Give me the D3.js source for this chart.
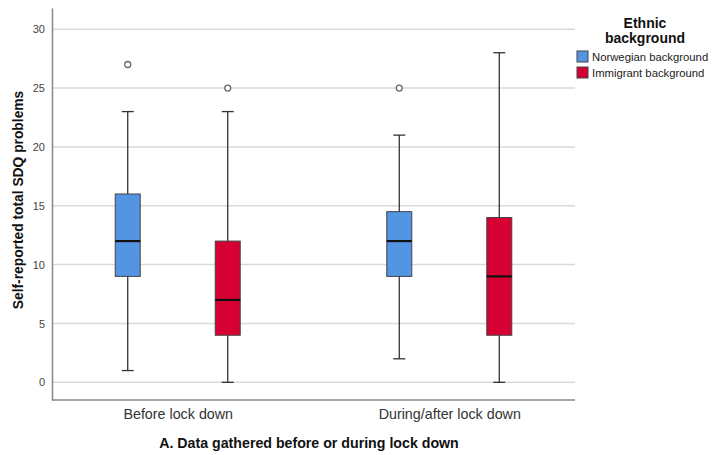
<!DOCTYPE html>
<html><head><meta charset="utf-8">
<script src="https://cdn.jsdelivr.net/npm/d3@7"></script>
<style>body{margin:0;background:#fff}svg{display:block}text{font-family:"Liberation Sans",Arial,sans-serif}</style>
</head><body><svg id="c" width="712" height="455"></svg>
<script>
const categories = ["Before lock down", "During/after lock down"];
const groups = ["Norwegian background", "Immigrant background"];
const colors = ["#5394e3", "#d60032"];
// [min, q1, median, q3, max]
const norwegianStats = [[1, 9, 12, 16, 23], [2, 9, 12, 14.5, 21]];
const immigrantStats = [[0, 4, 7, 12, 23], [0, 4, 9, 14, 28]];
const norwegianOutliers = [[27], [25]];
const immigrantOutliers = [[25], []];
const yTicks = [0, 5, 10, 15, 20, 25, 30];

const svg = d3.select("#c");
const pL = 52, pR = 575, pT = 8, pB = 400;
const y = d3.scaleLinear().domain([-1.5, 31.8]).range([pB, pT]);
const x = d3.scalePoint().domain(categories).range([pL, pR]).padding(0.463);
const sub = d3.scalePoint().domain(groups).range([-50, 50]);
const boxW = 25, capW = 12;

// gridlines
svg.append("g").selectAll("line").data(yTicks).join("line")
  .attr("x1", pL).attr("x2", pR)
  .attr("y1", d => y(d)).attr("y2", d => y(d))
  .attr("stroke", "#d9d9d9").attr("stroke-width", 1.5);

// axes
const yAxis = svg.append("g").attr("transform", `translate(${pL},0)`)
  .call(d3.axisLeft(y).tickValues(yTicks).tickSize(0).tickPadding(7));
yAxis.select(".domain").attr("stroke", "#888").attr("stroke-width", 1.5);
yAxis.selectAll("text").attr("font-size", 11).attr("fill", "#444");

const xAxis = svg.append("g").attr("transform", `translate(0,${pB})`)
  .call(d3.axisBottom(x).tickSize(0).tickPadding(9));
xAxis.select(".domain").attr("stroke", "#888").attr("stroke-width", 1.5).attr("d", `M${pL},0H${pR}`);
xAxis.selectAll("text").attr("font-size", 14.3).attr("fill", "#333");

const data = [];
categories.forEach((c, i) => {
  data.push({c, g: groups[0], s: norwegianStats[i], o: norwegianOutliers[i], col: colors[0]});
  data.push({c, g: groups[1], s: immigrantStats[i], o: immigrantOutliers[i], col: colors[1]});
});

const bx = svg.append("g").selectAll("g").data(data).join("g")
  .attr("transform", d => `translate(${x(d.c) + sub(d.g)},0)`);
// whiskers
bx.append("line").attr("x1", 0).attr("x2", 0)
  .attr("y1", d => y(d.s[0])).attr("y2", d => y(d.s[4]))
  .attr("stroke", "#333").attr("stroke-width", 1.3);
bx.append("line").attr("x1", -capW/2).attr("x2", capW/2)
  .attr("y1", d => y(d.s[0])).attr("y2", d => y(d.s[0]))
  .attr("stroke", "#333").attr("stroke-width", 1.3);
bx.append("line").attr("x1", -capW/2).attr("x2", capW/2)
  .attr("y1", d => y(d.s[4])).attr("y2", d => y(d.s[4]))
  .attr("stroke", "#333").attr("stroke-width", 1.3);
// boxes
bx.append("rect").attr("x", -boxW/2).attr("width", boxW)
  .attr("y", d => y(d.s[3])).attr("height", d => y(d.s[1]) - y(d.s[3]))
  .attr("fill", d => d.col).attr("stroke", "#444").attr("stroke-width", 1);
bx.append("line").attr("x1", -boxW/2).attr("x2", boxW/2)
  .attr("y1", d => y(d.s[2])).attr("y2", d => y(d.s[2]))
  .attr("stroke", "#111").attr("stroke-width", 2.2);
// outliers
bx.selectAll("circle").data(d => d.o).join("circle")
  .attr("cx", 0).attr("cy", d => y(d)).attr("r", 3)
  .attr("fill", "#fff").attr("stroke", "#666").attr("stroke-width", 1.3);

// axis titles
svg.append("text").attr("transform", `translate(23,200) rotate(-90)`)
  .attr("text-anchor", "middle").attr("font-size", 13.8).attr("font-weight", "bold").attr("fill", "#111")
  .text("Self-reported total SDQ problems");
svg.append("text").attr("x", 309).attr("y", 448)
  .attr("text-anchor", "middle").attr("font-size", 14.2).attr("font-weight", "bold").attr("fill", "#111")
  .text("A. Data gathered before or during lock down");

// legend
const lg = svg.append("g");
lg.append("text").attr("x", 645).attr("y", 28).attr("text-anchor", "middle")
  .attr("font-size", 14).attr("font-weight", "bold").attr("fill", "#111").text("Ethnic");
lg.append("text").attr("x", 645).attr("y", 43).attr("text-anchor", "middle")
  .attr("font-size", 14).attr("font-weight", "bold").attr("fill", "#111").text("background");
const li = lg.selectAll("g.it").data(groups).join("g").attr("class", "it")
  .attr("transform", (d, i) => `translate(577,${51 + i * 16})`);
li.append("rect").attr("width", 11).attr("height", 11)
  .attr("fill", (d, i) => colors[i]).attr("stroke", "#444").attr("stroke-width", 1);
li.append("text").attr("x", 15).attr("y", 10).attr("font-size", 11.3).attr("fill", "#222").text(d => d);
</script></body></html>
